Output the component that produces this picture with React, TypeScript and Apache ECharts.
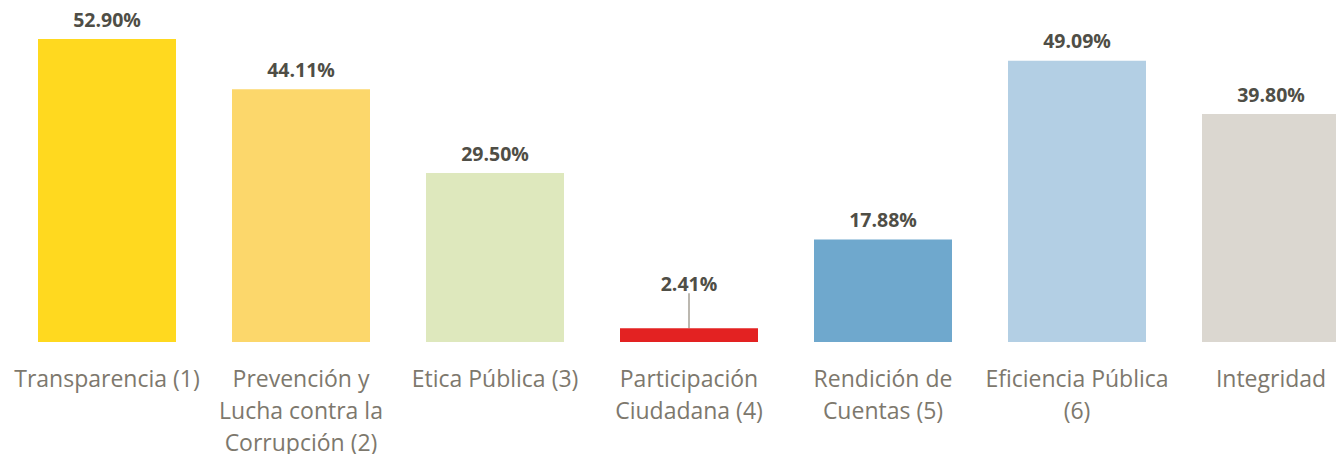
import React, { useEffect, useRef } from "react";
import * as echarts from "echarts";

const categories = [
  "Transparencia (1)",
  "Prevención y\nLucha contra la\nCorrupción (2)",
  "Etica Pública (3)",
  "Participación\nCiudadana (4)",
  "Rendición de\nCuentas (5)",
  "Eficiencia Pública\n(6)",
  "Integridad",
];
const values = [52.9, 44.11, 29.5, 2.41, 17.88, 49.09, 39.8];
const colors = ["#FFD91F", "#FCD76B", "#DEE8BD", "#E32222", "#6FA8CD", "#B3CFE4", "#DBD7D0"];

export default function App() {
  const ref = useRef<HTMLDivElement>(null);
  useEffect(() => {
    const chart = echarts.init(ref.current!, null, { renderer: "svg" });
    chart.setOption({
      animation: false,
      grid: { left: 10, right: 0, top: 27, bottom: 120 },
      xAxis: {
        type: "category",
        data: categories,
        axisLine: { show: false },
        axisTick: { show: false },
        axisLabel: {
          interval: 0,
          color: "#7D786D",
          fontFamily: "'Open Sans', Lato, sans-serif",
          fontSize: 23,
          lineHeight: 32,
          margin: 20,
          verticalAlign: "top",
        },
      },
      yAxis: { type: "value", min: 0, max: 55, show: false, splitLine: { show: false } },
      series: [
        {
          type: "bar",
          barWidth: 138,
          data: values.map((v, i) => ({
            value: v,
            itemStyle: { color: colors[i] },
            labelLine: i === 3 ? { show: true, lineStyle: { color: "#A6A196", width: 1.5 } } : undefined,
          })),
          label: {
            show: true,
            position: "top",
            distance: 10,
            color: "#4F4E46",
            fontWeight: "bold",
            fontSize: 19.5,
            fontFamily: "'Open Sans', Lato, sans-serif",
            formatter: (p: any) => p.value.toFixed(2) + "%",
          },
          labelLayout: (p: any) => (p.dataIndex === 3 ? { dy: -25 } : {}),
        },
      ],
    });
    return () => chart.dispose();
  }, []);
  return (
    <div style={{ width: 1344, height: 462, margin: -8, overflow: "hidden" }}>
      <div ref={ref} style={{ width: 1368, height: 462 }} />
    </div>
  );
}
